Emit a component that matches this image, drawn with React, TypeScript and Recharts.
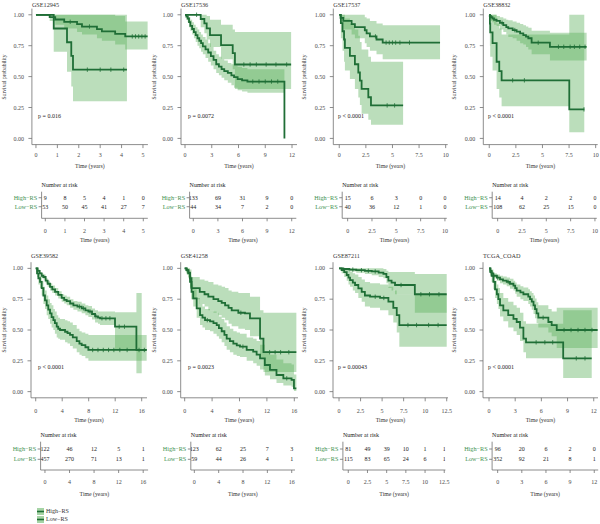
import React from 'react';
import { ComposedChart, ScatterChart, Scatter, Line, Area, XAxis, YAxis } from 'recharts';

const FONT = '"Liberation Serif", "Times New Roman", "DejaVu Serif", serif';
const CURVE = '#1f6e36';
const BAND = '#5cb05c';
const BAND_OPACITY = 0.42;
const AXIS = '#707070';
const TICK_TEXT = '#4a4a4a';
const GROUP_TEXT = '#3e9150';
const SVG_W = 158;

type Step = [number, number];
type Band = [number, number, number];

const GROUPS = ['High−RS', 'Low−RS'];
const SURV_TICKS = [0, 0.25, 0.5, 0.75, 1];

// ---------- GSE12945 ----------
const gse12945High: Step[] = [[0, 1], [0.83, 0.889], [1.45, 0.778], [1.65, 0.667], [1.73, 0.556], [4.25, 0.556]];
const gse12945HighBand: Band[] = [[0, 1, 1], [0.83, 0.7, 1], [1.45, 0.54, 1], [1.65, 0.42, 1], [1.73, 0.3, 1], [4.25, 0.3, 1]];
const gse12945HighCensor = [2.4, 3.0, 3.5, 4.1];
const gse12945Low: Step[] = [[0, 1], [0.64, 0.981], [0.9, 0.962], [1.32, 0.943], [1.92, 0.924], [2.15, 0.905], [2.85, 0.884], [3.08, 0.865], [3.7, 0.846], [4.17, 0.825], [5.22, 0.825]];
const gse12945LowBand: Band[] = [[0, 1, 1], [0.64, 0.95, 1], [0.9, 0.92, 1], [1.32, 0.89, 1], [1.92, 0.86, 1], [2.15, 0.84, 1], [2.85, 0.81, 1], [3.08, 0.79, 1], [3.7, 0.76, 0.99], [4.17, 0.72, 0.945], [5.22, 0.72, 0.945]];
const gse12945LowCensor = [1.6, 2.5, 4.5, 4.65, 4.8, 4.95, 5.1];
const gse12945Times = [0, 1, 2, 3, 4, 5];
const gse12945RiskHigh = [9, 8, 5, 4, 1, 0];
const gse12945RiskLow = [53, 50, 45, 41, 27, 7];

// ---------- GSE17536 ----------
const gse17536High: Step[] = [[0, 1], [0.15, 0.985], [0.3, 0.97], [0.45, 0.94], [0.6, 0.91], [0.8, 0.885], [1.0, 0.86], [1.2, 0.835], [1.4, 0.81], [1.6, 0.79], [1.8, 0.77], [2.0, 0.745], [2.3, 0.72], [2.6, 0.695], [2.9, 0.665], [3.2, 0.635], [3.5, 0.6], [3.8, 0.58], [4.1, 0.56], [4.4, 0.545], [4.8, 0.53], [5.2, 0.51], [5.5, 0.495], [5.9, 0.48], [6.4, 0.47], [7.0, 0.46], [11.15, 0]];
const gse17536HighBand: Band[] = [[0, 1, 1], [0.15, 0.96, 1], [0.3, 0.94, 1], [0.45, 0.9, 0.98], [0.6, 0.87, 0.96], [0.8, 0.84, 0.94], [1.0, 0.81, 0.92], [1.2, 0.78, 0.9], [1.4, 0.75, 0.88], [1.6, 0.73, 0.86], [1.8, 0.7, 0.84], [2.0, 0.68, 0.82], [2.3, 0.65, 0.8], [2.6, 0.62, 0.77], [2.9, 0.59, 0.74], [3.2, 0.56, 0.71], [3.5, 0.53, 0.68], [3.8, 0.51, 0.66], [4.1, 0.49, 0.64], [4.4, 0.47, 0.63], [4.8, 0.45, 0.61], [5.2, 0.43, 0.6], [5.5, 0.41, 0.59], [5.9, 0.39, 0.58], [6.4, 0.38, 0.57], [7.0, 0.37, 0.56], [11.15, 0.37, 0.56]];
const gse17536HighCensor = [7.6, 8.3, 9.0, 9.7, 10.4];
const gse17536Low: Step[] = [[0, 1], [1.76, 0.966], [2.17, 0.93], [2.43, 0.89], [2.8, 0.835], [4.04, 0.755], [5.35, 0.69], [5.6, 0.598], [11.9, 0.598]];
const gse17536LowBand: Band[] = [[0, 1, 1], [1.76, 0.9, 1], [2.17, 0.85, 1], [2.43, 0.8, 0.99], [2.8, 0.74, 0.96], [4.04, 0.64, 0.92], [5.35, 0.56, 0.88], [5.6, 0.4, 0.86], [11.9, 0.4, 0.86]];
const gse17536LowCensor = [1.3, 6.6, 7.3, 8.0, 9.1, 10.2, 11.4];
const gse17536Times = [0, 3, 6, 9, 12];
const gse17536RiskHigh = [133, 69, 31, 9, 0];
const gse17536RiskLow = [44, 34, 7, 2, 0];

// ---------- GSE17537 ----------
const gse17537High: Step[] = [[0, 1], [0.15, 0.933], [0.31, 0.867], [0.45, 0.8], [0.53, 0.733], [1.0, 0.667], [1.47, 0.6], [1.79, 0.533], [1.94, 0.467], [2.1, 0.4], [2.73, 0.333], [2.98, 0.267], [6.0, 0.267]];
const gse17537HighBand: Band[] = [[0, 1, 1], [0.15, 0.81, 1], [0.31, 0.71, 1], [0.45, 0.62, 1], [0.53, 0.55, 0.97], [1.0, 0.48, 0.93], [1.47, 0.4, 0.88], [1.79, 0.33, 0.83], [1.94, 0.27, 0.78], [2.1, 0.2, 0.72], [2.73, 0.15, 0.66], [2.98, 0.11, 0.62], [6.0, 0.11, 0.62]];
const gse17537HighCensor = [4.5, 5.2];
const gse17537Low: Step[] = [[0, 1], [0.12, 0.975], [0.38, 0.95], [1.16, 0.925], [1.47, 0.9], [2.4, 0.875], [2.57, 0.85], [2.88, 0.825], [3.5, 0.8], [4.08, 0.775], [9.47, 0.775]];
const gse17537LowBand: Band[] = [[0, 1, 1], [0.12, 0.93, 1], [0.38, 0.88, 1], [1.16, 0.84, 1], [1.47, 0.81, 1], [2.4, 0.77, 0.98], [2.57, 0.74, 0.97], [2.88, 0.71, 0.95], [3.5, 0.68, 0.93], [4.08, 0.64, 0.915], [9.47, 0.64, 0.915]];
const gse17537LowCensor = [3.4, 4.4, 4.7, 5.0, 5.3, 5.7, 6.6];
const gse17537Times = [0, 2.5, 5, 7.5, 10];
const gse17537RiskHigh = [15, 6, 3, 0, 0];
const gse17537RiskLow = [40, 36, 12, 1, 0];

// ---------- GSE38832 ----------
const gse38832High: Step[] = [[0, 1], [0.06, 0.929], [0.09, 0.857], [0.31, 0.77], [0.69, 0.62], [0.94, 0.545], [1.16, 0.47], [7.52, 0.235], [8.93, 0.235]];
const gse38832HighBand: Band[] = [[0, 1, 1], [0.06, 0.75, 1], [0.09, 0.66, 1], [0.31, 0.55, 1], [0.69, 0.4, 0.93], [0.94, 0.33, 0.89], [1.16, 0.26, 0.84], [7.52, 0.05, 1], [8.93, 0.05, 1]];
const gse38832HighCensor = [2.2, 3.3, 8.9];
const gse38832Low: Step[] = [[0, 1], [0.05, 0.99], [0.15, 0.98], [0.3, 0.97], [0.45, 0.96], [0.69, 0.95], [1.0, 0.935], [1.32, 0.916], [1.6, 0.9], [1.79, 0.89], [2.2, 0.876], [2.57, 0.863], [2.9, 0.85], [3.2, 0.836], [3.45, 0.823], [3.67, 0.81], [3.98, 0.774], [5.7, 0.741], [9.15, 0.741]];
const gse38832LowBand: Band[] = [[0, 1, 1], [0.05, 0.97, 1], [0.15, 0.95, 1], [0.3, 0.94, 1], [0.45, 0.92, 1], [0.69, 0.91, 0.99], [1.0, 0.88, 0.98], [1.32, 0.86, 0.97], [1.6, 0.84, 0.96], [1.79, 0.82, 0.955], [2.2, 0.81, 0.945], [2.57, 0.79, 0.935], [2.9, 0.77, 0.925], [3.2, 0.76, 0.915], [3.45, 0.74, 0.905], [3.67, 0.72, 0.895], [3.98, 0.68, 0.87], [5.7, 0.63, 0.855], [9.15, 0.63, 0.855]];
const gse38832LowCensor = [1.2, 2.4, 4.6, 6.5, 7.0, 7.6, 8.0, 8.5, 9.0];
const gse38832Times = [0, 2.5, 5, 7.5, 10];
const gse38832RiskHigh = [14, 4, 2, 2, 0];
const gse38832RiskLow = [108, 62, 25, 15, 0];

// ---------- GSE39582 ----------
const gse39582High: Step[] = [[0, 1], [0.2, 0.96], [0.4, 0.92], [0.65, 0.89], [0.9, 0.84], [1.16, 0.78], [1.4, 0.74], [1.66, 0.7], [1.9, 0.665], [2.16, 0.635], [2.4, 0.605], [2.67, 0.58], [2.9, 0.555], [3.17, 0.527], [3.4, 0.51], [3.67, 0.5], [4.43, 0.486], [4.8, 0.475], [5.18, 0.46], [5.6, 0.44], [6.19, 0.41], [6.6, 0.39], [6.94, 0.378], [7.5, 0.36], [7.95, 0.338], [16.75, 0.338]];
const gse39582HighBand: Band[] = [[0, 1, 1], [0.2, 0.93, 0.99], [0.4, 0.87, 0.96], [0.65, 0.84, 0.94], [0.9, 0.78, 0.9], [1.16, 0.71, 0.85], [1.4, 0.67, 0.82], [1.66, 0.62, 0.78], [1.9, 0.59, 0.75], [2.16, 0.55, 0.72], [2.4, 0.52, 0.7], [2.67, 0.5, 0.67], [2.9, 0.47, 0.65], [3.17, 0.44, 0.62], [3.4, 0.43, 0.6], [3.67, 0.42, 0.59], [4.43, 0.4, 0.58], [4.8, 0.39, 0.57], [5.18, 0.37, 0.56], [5.6, 0.35, 0.54], [6.19, 0.32, 0.51], [6.6, 0.3, 0.49], [6.94, 0.29, 0.48], [7.5, 0.27, 0.47], [7.95, 0.25, 0.46], [16.75, 0.25, 0.46]];
const gse39582HighCensor = [8.6, 9.4, 10.2, 11.0, 11.8, 12.7, 13.8, 15.6, 16.4];
const gse39582Low: Step[] = [[0, 1], [0.3, 0.98], [0.6, 0.96], [0.9, 0.94], [1.16, 0.93], [1.5, 0.9], [1.8, 0.875], [2.16, 0.85], [2.5, 0.83], [2.92, 0.81], [3.4, 0.785], [3.92, 0.76], [4.3, 0.745], [4.68, 0.735], [5.2, 0.715], [5.69, 0.7], [6.3, 0.69], [6.94, 0.676], [7.5, 0.66], [7.95, 0.65], [8.5, 0.63], [8.96, 0.61], [9.4, 0.6], [9.71, 0.595], [11.97, 0.527], [15.2, 0.338], [16.75, 0.338]];
const gse39582LowBand: Band[] = [[0, 1, 1], [0.3, 0.97, 0.99], [0.6, 0.95, 0.97], [0.9, 0.92, 0.96], [1.16, 0.91, 0.95], [1.5, 0.88, 0.92], [1.8, 0.85, 0.9], [2.16, 0.82, 0.88], [2.5, 0.8, 0.86], [2.92, 0.78, 0.84], [3.4, 0.755, 0.815], [3.92, 0.73, 0.79], [4.3, 0.715, 0.78], [4.68, 0.7, 0.77], [5.2, 0.68, 0.75], [5.69, 0.665, 0.735], [6.3, 0.65, 0.73], [6.94, 0.635, 0.715], [7.5, 0.62, 0.7], [7.95, 0.605, 0.695], [8.5, 0.585, 0.675], [8.96, 0.56, 0.66], [9.4, 0.55, 0.65], [9.71, 0.54, 0.65], [11.97, 0.34, 0.645], [15.2, 0.15, 0.8], [16.0, 0.15, 0.8]];
const gse39582LowCensor = [6.6, 7.2, 8.2, 9.1, 10.0, 10.6, 11.2, 12.6, 13.4];
const gse39582Times = [0, 4, 8, 12, 16];
const gse39582RiskHigh = [122, 46, 12, 5, 1];
const gse39582RiskLow = [457, 270, 71, 13, 1];

// ---------- GSE41258 ----------
const gse41258High: Step[] = [[0, 1], [0.25, 0.985], [0.53, 0.96], [0.78, 0.89], [1.0, 0.81], [1.25, 0.757], [1.75, 0.675], [2.24, 0.62], [2.6, 0.6], [2.97, 0.58], [3.7, 0.57], [4.2, 0.555], [4.67, 0.54], [5.0, 0.515], [5.4, 0.49], [5.8, 0.46], [6.13, 0.43], [6.6, 0.41], [7.1, 0.39], [7.6, 0.375], [8.07, 0.365], [9.05, 0.338], [10.0, 0.324], [10.5, 0.3], [11.0, 0.27], [11.7, 0.216], [12.45, 0.176], [13.4, 0.135], [14.4, 0.108], [15.6, 0.095], [15.95, 0.027], [16.3, 0.027]];
const gse41258HighBand: Band[] = [[0, 1, 1], [0.25, 0.96, 1], [0.53, 0.93, 0.99], [0.78, 0.84, 0.94], [1.0, 0.75, 0.87], [1.25, 0.69, 0.83], [1.75, 0.6, 0.76], [2.24, 0.54, 0.71], [2.6, 0.52, 0.69], [2.97, 0.5, 0.67], [3.7, 0.49, 0.66], [4.2, 0.47, 0.65], [4.67, 0.45, 0.64], [5.0, 0.43, 0.61], [5.4, 0.4, 0.59], [5.8, 0.37, 0.56], [6.13, 0.34, 0.53], [6.6, 0.32, 0.51], [7.1, 0.3, 0.49], [7.6, 0.29, 0.48], [8.07, 0.28, 0.47], [9.05, 0.25, 0.44], [10.0, 0.23, 0.43], [10.5, 0.21, 0.41], [11.0, 0.18, 0.38], [11.7, 0.13, 0.33], [12.45, 0.1, 0.3], [13.4, 0.07, 0.26], [14.4, 0.05, 0.23], [15.6, 0.04, 0.22], [15.95, 0.005, 0.14], [16.3, 0.005, 0.14]];
const gse41258HighCensor = [3.3, 8.5, 14.9];
const gse41258Low: Step[] = [[0, 1], [0.3, 0.983], [0.53, 0.966], [0.78, 0.92], [1.0, 0.84], [2.2, 0.81], [2.9, 0.79], [3.45, 0.77], [4.2, 0.75], [4.9, 0.735], [5.4, 0.72], [5.9, 0.7], [6.4, 0.68], [6.86, 0.66], [7.83, 0.64], [8.8, 0.635], [9.53, 0.595], [11.0, 0.43], [11.5, 0.32], [16.3, 0.32]];
const gse41258LowBand: Band[] = [[0, 1, 1], [0.3, 0.95, 1], [0.53, 0.92, 1], [0.78, 0.85, 0.99], [1.0, 0.75, 0.93], [2.2, 0.71, 0.91], [2.9, 0.69, 0.9], [3.45, 0.66, 0.89], [4.2, 0.64, 0.87], [4.9, 0.62, 0.86], [5.4, 0.6, 0.85], [5.9, 0.58, 0.84], [6.4, 0.55, 0.82], [6.86, 0.53, 0.81], [7.83, 0.51, 0.8], [8.8, 0.5, 0.8], [9.53, 0.45, 0.77], [11.0, 0.27, 0.66], [11.5, 0.16, 0.64], [16.3, 0.16, 0.64]];
const gse41258LowCensor = [8.2, 12.4, 13.2, 14.0, 15.2];
const gse41258Times = [0, 4, 8, 12, 16];
const gse41258RiskHigh = [123, 62, 25, 7, 3];
const gse41258RiskLow = [59, 44, 26, 4, 1];

// ---------- GSE87211 ----------
const gse87211High: Step[] = [[0, 1], [0.3, 0.985], [0.6, 0.97], [0.89, 0.946], [1.1, 0.925], [1.28, 0.905], [1.6, 0.885], [1.86, 0.865], [2.24, 0.838], [2.63, 0.81], [3.0, 0.78], [3.6, 0.77], [4.76, 0.76], [5.73, 0.73], [6.3, 0.68], [6.7, 0.62], [7.0, 0.54], [12.5, 0.54]];
const gse87211HighBand: Band[] = [[0, 1, 1], [0.3, 0.96, 1], [0.6, 0.93, 1], [0.89, 0.9, 0.99], [1.1, 0.87, 0.98], [1.28, 0.85, 0.97], [1.6, 0.82, 0.96], [1.86, 0.8, 0.95], [2.24, 0.76, 0.93], [2.63, 0.73, 0.91], [3.0, 0.69, 0.89], [3.6, 0.68, 0.88], [4.76, 0.66, 0.87], [5.73, 0.62, 0.85], [6.3, 0.56, 0.82], [6.7, 0.48, 0.79], [7.0, 0.365, 0.79], [12.5, 0.365, 0.79]];
const gse87211HighCensor = [4.2, 5.2, 8.0, 9.0, 10.4, 11.5];
const gse87211Low: Step[] = [[0, 1], [0.5, 0.995], [1.2, 0.99], [2.0, 0.985], [3.0, 0.98], [3.8, 0.975], [4.6, 0.965], [5.15, 0.955], [5.5, 0.93], [5.73, 0.9], [6.1, 0.885], [6.5, 0.865], [8.8, 0.79], [12.5, 0.79]];
const gse87211LowBand: Band[] = [[0, 1, 1], [0.5, 0.985, 1], [1.2, 0.975, 1], [2.0, 0.965, 1], [3.0, 0.955, 1], [3.8, 0.945, 1], [4.6, 0.93, 1], [5.15, 0.92, 0.995], [5.5, 0.88, 0.98], [5.73, 0.84, 0.97], [6.1, 0.82, 0.97], [6.5, 0.79, 0.97], [8.8, 0.64, 0.955], [12.5, 0.64, 0.955]];
const gse87211LowCensor = [1.6, 2.6, 3.4, 4.2, 7.2, 9.5, 10.5, 11.6];
const gse87211Times = [0, 2.5, 5, 7.5, 10, 12.5];
const gse87211RiskHigh = [81, 49, 39, 10, 1, 1];
const gse87211RiskLow = [115, 83, 65, 24, 6, 1];

// ---------- TCGA_COAD ----------
const tcgaHigh: Step[] = [[0, 1], [0.15, 0.97], [0.3, 0.94], [0.5, 0.89], [0.69, 0.83], [0.9, 0.79], [1.07, 0.75], [1.26, 0.7], [1.64, 0.66], [2.2, 0.62], [2.8, 0.59], [3.17, 0.565], [3.55, 0.52], [3.94, 0.43], [4.24, 0.4], [8.5, 0.27], [11.77, 0.27]];
const tcgaHighBand: Band[] = [[0, 1, 1], [0.15, 0.94, 1], [0.3, 0.89, 0.99], [0.5, 0.83, 0.95], [0.69, 0.76, 0.9], [0.9, 0.71, 0.87], [1.07, 0.67, 0.84], [1.26, 0.61, 0.8], [1.64, 0.57, 0.76], [2.2, 0.52, 0.73], [2.8, 0.49, 0.7], [3.17, 0.46, 0.68], [3.55, 0.41, 0.64], [3.94, 0.32, 0.57], [4.24, 0.27, 0.55], [8.5, 0.11, 0.66], [11.77, 0.11, 0.66]];
const tcgaHighCensor = [5.4, 6.4, 7.3, 10.0, 11.0];
const tcgaLow: Step[] = [[0, 1], [0.15, 0.98], [0.3, 0.96], [0.5, 0.94], [0.9, 0.925], [1.26, 0.91], [1.6, 0.9], [2.03, 0.89], [2.4, 0.875], [2.8, 0.86], [3.0, 0.84], [3.17, 0.82], [3.6, 0.805], [3.94, 0.79], [4.5, 0.77], [4.7, 0.75], [4.9, 0.73], [5.1, 0.7], [5.27, 0.67], [5.45, 0.635], [5.65, 0.6], [6.8, 0.565], [7.18, 0.54], [7.76, 0.5], [12.45, 0.5]];
const tcgaLowBand: Band[] = [[0, 1, 1], [0.15, 0.97, 0.99], [0.3, 0.945, 0.975], [0.5, 0.92, 0.96], [0.9, 0.9, 0.95], [1.26, 0.88, 0.94], [1.6, 0.87, 0.935], [2.03, 0.855, 0.925], [2.4, 0.835, 0.915], [2.8, 0.82, 0.9], [3.0, 0.795, 0.885], [3.17, 0.77, 0.87], [3.6, 0.75, 0.855], [3.94, 0.735, 0.845], [4.5, 0.71, 0.83], [4.7, 0.69, 0.815], [4.9, 0.665, 0.8], [5.1, 0.63, 0.78], [5.27, 0.595, 0.755], [5.45, 0.555, 0.725], [5.65, 0.52, 0.7], [6.8, 0.48, 0.67], [7.18, 0.45, 0.65], [7.76, 0.355, 0.68], [12.45, 0.355, 0.68]];
const tcgaLowCensor = [1.0, 2.2, 6.2, 8.6, 9.4, 10.2, 11.0, 11.8];
const tcgaTimes = [0, 3, 6, 9, 12];
const tcgaRiskHigh = [96, 20, 6, 2, 0];
const tcgaRiskLow = [352, 92, 21, 8, 1];

// Panel settings: data plus the pixel geometry of each panel's axes.
interface PanelDef {
  title: string;
  pText: string;
  high: Step[];
  low: Step[];
  highBand: Band[];
  lowBand: Band[];
  highCensor: number[];
  lowCensor: number[];
  times: number[];
  riskHigh: number[];
  riskLow: number[];
  xMin: number;
  xMax: number;
  kmL: number;
  kmR: number;
  tabL: number;
  tabR: number;
}

const PANELS: PanelDef[] = [
  { title: 'GSE12945', pText: 'p = 0.016', high: gse12945High, low: gse12945Low, highBand: gse12945HighBand, lowBand: gse12945LowBand, highCensor: gse12945HighCensor, lowCensor: gse12945LowCensor, times: gse12945Times, riskHigh: gse12945RiskHigh, riskLow: gse12945RiskLow, xMin: -0.19, xMax: 5.23, kmL: 31.9, kmR: 147.9, tabL: 41.6, tabR: 147.8 },
  { title: 'GSE17536', pText: 'p = 0.0072', high: gse17536High, low: gse17536Low, highBand: gse17536HighBand, lowBand: gse17536LowBand, highCensor: gse17536HighCensor, lowCensor: gse17536LowCensor, times: gse17536Times, riskHigh: gse17536RiskHigh, riskLow: gse17536RiskLow, xMin: -0.45, xMax: 12.56, kmL: 31, kmR: 147, tabL: 39.6, tabR: 146.3 },
  { title: 'GSE17537', pText: 'p < 0.0001', high: gse17537High, low: gse17537Low, highBand: gse17537HighBand, lowBand: gse17537LowBand, highCensor: gse17537HighCensor, lowCensor: gse17537LowCensor, times: gse17537Times, riskHigh: gse17537RiskHigh, riskLow: gse17537RiskLow, xMin: -0.56, xMax: 10.19, kmL: 33.3, kmR: 147.7, tabL: 42.2, tabR: 146.8 },
  { title: 'GSE38832', pText: 'p < 0.0001', high: gse38832High, low: gse38832Low, highBand: gse38832HighBand, lowBand: gse38832LowBand, highCensor: gse38832HighCensor, lowCensor: gse38832LowCensor, times: gse38832Times, riskHigh: gse38832RiskHigh, riskLow: gse38832RiskLow, xMin: -0.56, xMax: 10.19, kmL: 33.3, kmR: 147.7, tabL: 42.2, tabR: 146.8 },
  { title: 'GSE39582', pText: 'p < 0.0001', high: gse39582High, low: gse39582Low, highBand: gse39582HighBand, lowBand: gse39582LowBand, highCensor: gse39582HighCensor, lowCensor: gse39582LowCensor, times: gse39582Times, riskHigh: gse39582RiskHigh, riskLow: gse39582RiskLow, xMin: -0.71, xMax: 16.8, kmL: 31, kmR: 147, tabL: 40.6, tabR: 148.1 },
  { title: 'GSE41258', pText: 'p = 0.0023', high: gse41258High, low: gse41258Low, highBand: gse41258HighBand, lowBand: gse41258LowBand, highCensor: gse41258HighCensor, lowCensor: gse41258LowCensor, times: gse41258Times, riskHigh: gse41258RiskHigh, riskLow: gse41258RiskLow, xMin: -0.58, xMax: 16.54, kmL: 30.7, kmR: 148, tabL: 40.8, tabR: 145 },
  { title: 'GSE87211', pText: 'p = 0.00043', high: gse87211High, low: gse87211Low, highBand: gse87211HighBand, lowBand: gse87211LowBand, highCensor: gse87211HighCensor, lowCensor: gse87211LowCensor, times: gse87211Times, riskHigh: gse87211RiskHigh, riskLow: gse87211RiskLow, xMin: -0.7, xMax: 12.65, kmL: 33, kmR: 148, tabL: 42.9, tabR: 145.4 },
  { title: 'TCGA_COAD', pText: 'p < 0.0001', high: tcgaHigh, low: tcgaLow, highBand: tcgaHighBand, lowBand: tcgaLowBand, highCensor: tcgaHighCensor, lowCensor: tcgaLowCensor, times: tcgaTimes, riskHigh: tcgaRiskHigh, riskLow: tcgaRiskLow, xMin: -0.69, xMax: 12.49, kmL: 33, kmR: 148, tabL: 42.1, tabR: 148.2 },
];

// Vertical geometry of the two rows of panels.
const ROW_LAYOUT = [
  { kmTop: 0, kmH: 160, plotTop: 8.6, plotBottom: 144.6, xTickMargin: 5, titleY: 5, yLabelY: 77, timeY: 166.7, pY: 115.5, riskTitleY: 184.7, tabTop: 188, tabH: 50, tabPlotTop: 191.7, tabPlotBottom: 218.3, tabDomain: [0.33, 3.29], tabTickMargin: 7.8, tabTimeY: 241.3 },
  { kmTop: 255, kmH: 160, plotTop: 262.2, plotBottom: 397.8, xTickMargin: 7, titleY: 256, yLabelY: 330, timeY: 420.7, pY: 367.3, riskTitleY: 435, tabTop: 438, tabH: 52, tabPlotTop: 441.7, tabPlotBottom: 470, tabDomain: [0.29, 3.04], tabTickMargin: 6.5, tabTimeY: 495 },
];

// Survival value of a step curve at time t (right-continuous).
function survivalAt(curve: Step[], t: number) {
  let s = curve[0][1];
  for (const [ct, cs] of curve) {
    if (ct <= t) s = cs;
    else break;
  }
  return s;
}

function buildRows(p: PanelDef) {
  const rows: Record<string, any>[] = [];
  p.highBand.forEach(([t, lo, hi]) => rows.push({ t, hb: [lo, hi] }));
  p.lowBand.forEach(([t, lo, hi]) => rows.push({ t, lb: [lo, hi] }));
  p.high.forEach(([t, s]) => rows.push({ t, hs: s }));
  p.low.forEach(([t, s]) => rows.push({ t, ls: s }));
  return rows.sort((a, b) => a.t - b.t);
}

const RiskCell = (props: any) => {
  if (props.cx == null || props.cy == null) return null;
  return (
    <text x={props.cx} y={props.cy} textAnchor="middle" dominantBaseline="central" fontSize={6} fontFamily={FONT} fill="#222">
      {props.payload.n}
    </text>
  );
};

const CensorMark = (props: any) => {
  if (props.cx == null || props.cy == null) return null;
  return <line x1={props.cx} x2={props.cx} y1={props.cy - 2.2} y2={props.cy + 2.2} stroke={CURVE} strokeWidth={0.8} />;
};

const txt = (size = 6, color = '#222'): React.CSSProperties => ({
  position: 'absolute',
  fontSize: size,
  lineHeight: 1,
  color,
  whiteSpace: 'nowrap',
  fontFamily: FONT,
});

function Panel({ p, index }: { p: PanelDef; index: number }) {
  const col = index % 4;
  const row = Math.floor(index / 4);
  const L = ROW_LAYOUT[row];
  const x0 = col * 150;
  const rows = buildRows(p);
  const censors = [
    ...p.highCensor.map((t) => ({ t, s: survivalAt(p.high, t) })),
    ...p.lowCensor.map((t) => ({ t, s: survivalAt(p.low, t) })),
  ];
  const cells = [
    ...p.riskHigh.map((n, i) => ({ t: p.times[i], row: 1, n })),
    ...p.riskLow.map((n, i) => ({ t: p.times[i], row: 2, n })),
  ];
  const tickStyle = { fill: TICK_TEXT, fontSize: 6, fontFamily: FONT };

  return (
    <>
      <div style={{ ...txt(6.2, '#333'), left: x0 + p.kmL, top: L.titleY, transform: 'translateY(-50%)' }}>{p.title}</div>
      <div style={{ ...txt(5.6, '#333'), left: x0 + 5, top: L.yLabelY, transform: 'translate(-50%, -50%) rotate(-90deg)' }}>Survival probability</div>
      <div style={{ position: 'absolute', left: x0, top: L.kmTop }}>
        <ComposedChart
          width={SVG_W}
          height={L.kmH}
          data={rows}
          margin={{ top: L.plotTop - L.kmTop, right: SVG_W - p.kmR, bottom: 0, left: 0 }}
        >
          <XAxis
            type="number"
            dataKey="t"
            domain={[p.xMin, p.xMax]}
            allowDataOverflow
            ticks={p.times}
            interval={0}
            height={L.kmTop + L.kmH - L.plotBottom}
            tickSize={3.5}
            tickMargin={L.xTickMargin}
            stroke={AXIS}
            strokeWidth={0.8}
            tick={tickStyle}
          />
          <YAxis
            type="number"
            domain={[-0.05, 1.05]}
            allowDataOverflow
            ticks={SURV_TICKS}
            interval={0}
            width={p.kmL}
            tickSize={3.5}
            tickMargin={4.5}
            stroke={AXIS}
            strokeWidth={0.8}
            tick={tickStyle}
            tickFormatter={(v: number) => v.toFixed(2)}
          />
          <Area dataKey="hb" type="stepAfter" connectNulls stroke="none" fill={BAND} fillOpacity={BAND_OPACITY} isAnimationActive={false} />
          <Area dataKey="lb" type="stepAfter" connectNulls stroke="none" fill={BAND} fillOpacity={BAND_OPACITY} isAnimationActive={false} />
          <Line dataKey="hs" type="stepAfter" connectNulls stroke={CURVE} strokeWidth={1.8} dot={false} activeDot={false} isAnimationActive={false} />
          <Line dataKey="ls" type="stepAfter" connectNulls stroke={CURVE} strokeWidth={1.8} dot={false} activeDot={false} isAnimationActive={false} />
          <Scatter data={censors} dataKey="s" shape={CensorMark} isAnimationActive={false} />
        </ComposedChart>
      </div>
      <div style={{ ...txt(6, '#222'), left: x0 + 38, top: L.pY, transform: 'translateY(-50%)' }}>{p.pText}</div>
      <div style={{ ...txt(5.8, '#333'), left: x0 + (p.kmL + p.kmR) / 2, top: L.timeY, transform: 'translate(-50%, -50%)' }}>Time (years)</div>

      <div style={{ ...txt(6, '#222'), left: x0 + p.tabL, top: L.riskTitleY, transform: 'translateY(-50%)' }}>Number at risk</div>
      <div style={{ position: 'absolute', left: x0, top: L.tabTop }}>
        <ScatterChart
          width={SVG_W}
          height={L.tabH}
          margin={{ top: L.tabPlotTop - L.tabTop, right: SVG_W - p.tabR, bottom: 0, left: 0 }}
        >
          <XAxis
            type="number"
            dataKey="t"
            domain={[p.xMin, p.xMax]}
            allowDataOverflow
            ticks={p.times}
            interval={0}
            height={L.tabTop + L.tabH - L.tabPlotBottom}
            tickSize={3}
            tickMargin={L.tabTickMargin}
            stroke={AXIS}
            strokeWidth={0.8}
            tick={tickStyle}
          />
          <YAxis
            type="number"
            dataKey="row"
            domain={L.tabDomain}
            allowDataOverflow
            reversed
            ticks={[1, 2]}
            interval={0}
            width={p.tabL}
            tickSize={3}
            tickMargin={1.5}
            stroke={AXIS}
            strokeWidth={0.8}
            tick={{ fill: GROUP_TEXT, fontSize: 6.2, fontFamily: FONT }}
            tickFormatter={(v: number) => GROUPS[v - 1]}
          />
          <Scatter data={cells} shape={RiskCell} isAnimationActive={false} />
        </ScatterChart>
      </div>
      <div style={{ ...txt(5.8, '#333'), left: x0 + (p.tabL + p.tabR) / 2, top: L.tabTimeY, transform: 'translate(-50%, -50%)' }}>Time (years)</div>
    </>
  );
}

function LegendKey({ label, top }: { label: string; top: number }) {
  return (
    <>
      <svg style={{ position: 'absolute', left: 37, top: top - 3.5 }} width={7} height={7}>
        <rect x={0} y={0} width={7} height={7} fill={BAND} fillOpacity={0.55} />
        <line x1={0} y1={3.5} x2={7} y2={3.5} stroke={CURVE} strokeWidth={1.6} />
      </svg>
      <div style={{ ...txt(6, '#333'), left: 46, top, transform: 'translateY(-50%)' }}>{label}</div>
    </>
  );
}

export default function App() {
  return (
    <div style={{ position: 'absolute', left: 0, top: 0, width: 600, height: 524, background: '#fff', overflow: 'hidden', fontFamily: FONT }}>
      {PANELS.map((p, i) => (
        <Panel key={p.title} p={p} index={i} />
      ))}
      <LegendKey label={GROUPS[0]} top={511} />
      <LegendKey label={GROUPS[1]} top={519} />
    </div>
  );
}
